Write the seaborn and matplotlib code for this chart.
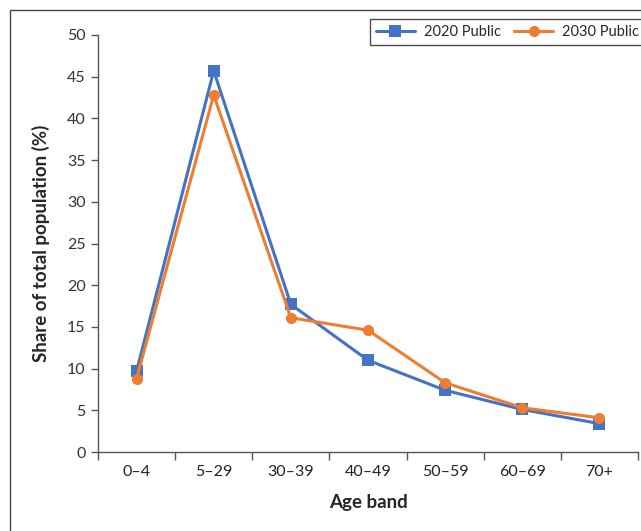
import pandas as pd
import numpy as np
import matplotlib.pyplot as plt
import seaborn as sns
from matplotlib.patches import Rectangle
from matplotlib.ticker import FixedLocator

age_bands = ['0–4', '5–29', '30–39', '40–49', '50–59', '60–69', '70+']
share_2020 = [9.7, 45.7, 17.7, 11.0, 7.4, 5.1, 3.4]
share_2030 = [8.8, 42.8, 16.1, 14.6, 8.3, 5.3, 4.1]
series = ['2020 Public', '2030 Public']

df = pd.DataFrame({
    'Age band': age_bands * 2,
    'Share': share_2020 + share_2030,
    'Series': [series[0]] * len(age_bands) + [series[1]] * len(age_bands),
})

sns.set_style('white')
plt.rcParams['font.family'] = ['Lato', 'DejaVu Sans']

fig = plt.figure(figsize=(6.41, 5.31), dpi=100)
ax = fig.add_axes([98/641, 1-452/531, (638-98)/641, (452-35)/531])

palette = {series[0]: '#4472C4', series[1]: '#ED7D31'}
sns.lineplot(data=df, x='Age band', y='Share', hue='Series', style='Series',
             markers={series[0]: 's', series[1]: 'o'}, dashes=False,
             palette=palette, linewidth=2.2, markersize=8, markeredgewidth=0,
             sort=False, ax=ax)

ax.set_xlim(-0.5, len(age_bands) - 0.5)
ax.set_ylim(0, 50)
ax.set_yticks(np.arange(0, 51, 5))
ax.xaxis.set_minor_locator(FixedLocator(np.arange(-0.5, len(age_bands), 1)))
ax.tick_params(axis='x', which='major', length=0, labelsize=11.5, pad=9, colors='#222222')
ax.tick_params(axis='x', which='minor', length=6, width=1, color='#555555', direction='out', bottom=True)
ax.tick_params(axis='y', length=5, width=1, color='#555555', direction='out', left=True, labelsize=11.5, pad=4, labelcolor='#333333')
for s in ['top', 'right']:
    ax.spines[s].set_visible(False)
for s in ['left', 'bottom']:
    ax.spines[s].set_color('#555555')
    ax.spines[s].set_linewidth(1)

ax.set_xlabel('Age band', fontsize=13.5, fontweight='bold', labelpad=11)
ax.set_ylabel('Share of total population (%)', fontsize=13.5, fontweight='bold', labelpad=12)

leg = ax.legend(loc='upper right', bbox_to_anchor=(645/641, 1-19/531), bbox_transform=fig.transFigure,
                ncol=2, frameon=True, fancybox=False, fontsize=10.5, handlelength=2.7,
                columnspacing=0.9, borderpad=0.4, handletextpad=0.6, borderaxespad=0)
leg.get_frame().set_edgecolor('#222222')
leg.get_frame().set_linewidth(1)
leg.set_title(None)

fig.patches.append(Rectangle((10/641, -0.1), 2, 1.1 - 10/531, transform=fig.transFigure,
                             fill=False, edgecolor='#444444', linewidth=1, zorder=0))

fig.savefig('out.png', dpi=100)
